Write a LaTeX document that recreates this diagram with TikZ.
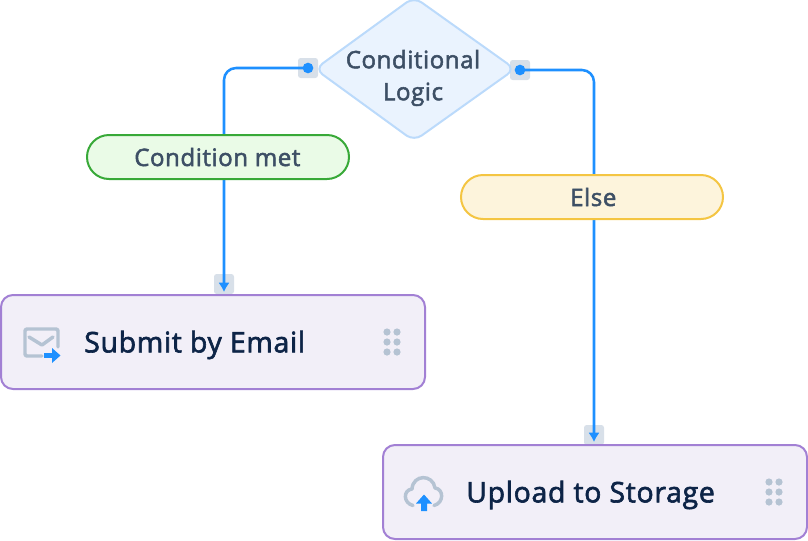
\documentclass[tikz,border=0pt]{standalone}
\usepackage{fontspec}
\setmainfont{Open Sans}
\newfontfamily\semi[FakeBold=2.2,LetterSpace=2.5]{Open Sans}
\usetikzlibrary{arrows.meta}
\definecolor{flowblue}{HTML}{1E90FF}
\definecolor{handlegray}{HTML}{D8E0E9}
\definecolor{icongray}{HTML}{B5C3D3}
\definecolor{labelink}{HTML}{3D4F65}
\definecolor{titleink}{HTML}{0D2447}
\tikzset{
  x=0.75pt, y=-0.75pt,
  pill/.style={draw, line width=1.5pt, rounded corners=16.5pt, minimum width=196.5pt, minimum height=33pt, inner sep=0pt, outer sep=0pt, text=labelink, font=\semi\fontsize{18}{20}\selectfont},
  action/.style={draw=purpleedge, fill=purplefill, line width=1.5pt, rounded corners=9pt, minimum width=318pt, minimum height=70.5pt, inner sep=0pt, outer sep=0pt},
  title/.style={text=titleink, anchor=west, inner sep=0pt, font=\semi\fontsize{21.3}{25}\selectfont},
  handle/.style={fill=handlegray, rounded corners=2pt, minimum size=15pt, inner sep=0pt, outer sep=0pt},
  port/.style={circle, fill=flowblue, minimum size=8pt, inner sep=0pt, outer sep=0pt},
  link/.style={draw=flowblue, line width=1.9pt, rounded corners=9pt, -{Latex[length=7pt,width=8.5pt]}},
  grip/.style={fill=icongray},
  iconline/.style={draw=icongray, line width=2.6pt, line cap=round, line join=round},
}
\definecolor{purpleedge}{HTML}{A280D4}
\definecolor{purplefill}{HTML}{F2EFF8}
\definecolor{greenedge}{HTML}{38A938}
\definecolor{greenfill}{HTML}{EAFBE7}
\definecolor{amberedge}{HTML}{F4C542}
\definecolor{amberfill}{HTML}{FDF4DC}
\definecolor{diamondedge}{HTML}{BBDAFB}
\definecolor{diamondfill}{HTML}{EAF3FE}
\begin{document}
\begin{tikzpicture}
\useasboundingbox (0,0) rectangle (808,540);

% connection handles
\node[handle] (hLeft) at (308,68) {};
\node[handle] (hRight) at (520,70) {};
\node[handle] (hMail) at (224,284) {};
\node[handle] (hCloud) at (594,435) {};

% decision shape
\draw[draw=diamondedge, fill=diamondfill, line width=1.5pt, rounded corners=7pt, line join=round]
  (414,-3) -- (515,69) -- (414,141) -- (315,69) -- cycle;
\node[inner sep=0pt, align=center, text=labelink, font=\semi\fontsize{18}{24}\selectfont] (decision) at (413,78) {Conditional\\Logic};

% connectors
\node[port] (pLeft) at (308,68) {};
\node[port] (pRight) at (520,70) {};
\coordinate (tipMail) at (224,292);
\coordinate (tipCloud) at (594,442);
\draw[link] (pLeft.center) -| (tipMail);
\draw[link] (pRight.center) -| (tipCloud);

% branch labels
\node[pill, draw=greenedge, fill=greenfill] (met) at (218,157) {\hspace{-1pt}Condition met};
\node[pill, draw=amberedge, fill=amberfill] (else) at (592,197) {\hspace{2pt}Else};

% action boxes
\node[action] (mail) at (213,342) {};
\node[action] (cloud) at (595,492) {};
\node[title] (mailText) at (84,345) {Submit by Email};
\node[title] (cloudText) at (466,495) {Upload to Storage};

% envelope icon
\draw[iconline] (42,356) -- (27,356) arc[start angle=90, end angle=180, radius=2] -- (25,331) arc[start angle=180, end angle=270, radius=2] -- (56,329) arc[start angle=270, end angle=360, radius=2] -- (58,347);
\draw[iconline] (29,337) -- (42,345) -- (53,337);
\draw[flowblue, line width=3.2pt] (44,355.5) -- (54,355.5);
\fill[flowblue] (52,348) -- (60.5,355.5) -- (52,363) -- cycle;

% cloud icon
\draw[iconline] (413,505.5) .. controls (403,503) and (403,490) .. (412,489)
  .. controls (413,474) and (433,474) .. (435,488)
  .. controls (444,489) and (444,503) .. (434,505.5);
\fill[flowblue] (424,494.5) -- (432,503.5) -- (427,503.5) -- (427,511) -- (421,511) -- (421,503.5) -- (416,503.5) -- cycle;

% drag grips
\foreach \gx in {387,397} \foreach \gy in {332,342,352}
  \fill[grip] (\gx,\gy) circle[radius=2.7pt];
\foreach \gx in {769,779} \foreach \gy in {482,492,502}
  \fill[grip] (\gx,\gy) circle[radius=2.7pt];
\end{tikzpicture}
\end{document}
